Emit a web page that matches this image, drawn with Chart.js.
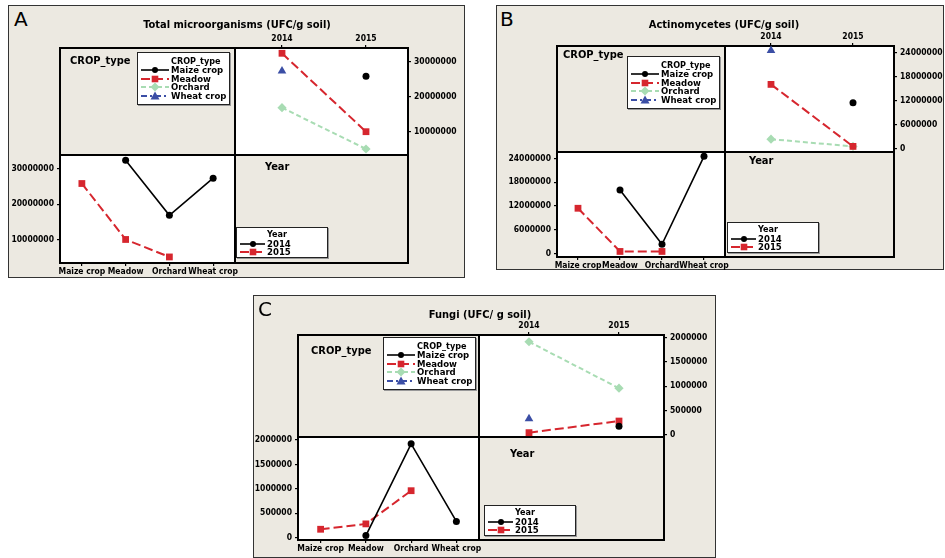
<!DOCTYPE html>
<html><head>
<meta charset="UTF-8">
<title>Interaction plots</title>
<script src="https://cdn.jsdelivr.net/npm/chart.js"></script>
<style>
  body { margin: 0; width: 945px; height: 558px; background: #fff; position: relative; overflow: hidden;
         font-family: "DejaVu Sans Condensed", "DejaVu Sans", sans-serif; font-weight: bold; color: #000; }
  .abs { position: absolute; }
  .frame { position: absolute; background: #ece9e1; border: 1px solid #333; box-sizing: border-box; }
  .txt { position: absolute; line-height: 1; white-space: nowrap; transform: translateY(-50%); }
  .legend { position: absolute; background: #fff; border: 1px solid #222; box-shadow: 1px 1px 0 #999; box-sizing: border-box; }
  canvas { position: absolute; }
</style>
</head><body>
<script>
// values
const crops = ['Maize crop', 'Meadow', 'Orchard', 'Wheat crop'];
const years = ['2014', '2015'];

const total2014 = [null, 32300000, 16900000, 27300000];
const total2015 = [25800000, 10100000, 5200000, null];
const totalTicks = [10000000, 20000000, 30000000];

const actino2014 = [null, 16000000, 2300000, 24500000];
const actino2015 = [11400000, 500000, 500000, null];
const actinoTicks = [0, 6000000, 12000000, 18000000, 24000000];

const fungi2014 = [null, 40000, 1920000, 330000];
const fungi2015 = [170000, 280000, 960000, null];
const fungiTicks = [0, 500000, 1000000, 1500000, 2000000];

const FONT = '"DejaVu Sans Condensed", "DejaVu Sans", sans-serif';
Chart.defaults.font.family = FONT;
Chart.defaults.font.weight = 'bold';
Chart.defaults.font.size = 8.5;
Chart.defaults.color = '#000';

const cropStyles = [
  { color: '#000000', dash: [], point: 'circle', r: 3.5, w: 1.6 },
  { color: '#d6262e', dash: [9, 4], point: 'rect', r: 4.8, w: 2 },
  { color: '#a8dcb3', dash: [5, 3], point: 'rectRot', r: 4.6, w: 2 },
  { color: '#3b4ea5', dash: [6, 3, 2, 3], point: 'triangle', r: 5, w: 2 },
];
const yearStyles = [cropStyles[0], cropStyles[1]];

const panels = [
  {
    letter: 'A', title: 'Total microorganisms (UFC/g soil)', v2014: total2014, v2015: total2015,
    ticks: totalTicks, min: 3500000, max: 33800000,
    frame: [8, 5, 465, 278], grid: { l: 60, m: 235, r: 408, t: 48, h: 155, b: 263 },
    letterAt: [14, 19], titleAt: [237, 24], cropLabel: [70, 60], yearLabel: [265, 166],
    cropLeg: [137, 52], yearLeg: [236, 227],
  },
  {
    letter: 'B', title: 'Actinomycetes (UFC/g soil)', v2014: actino2014, v2015: actino2015,
    ticks: actinoTicks, min: -900000, max: 25600000,
    frame: [496, 5, 944, 270], grid: { l: 557, m: 725, r: 894, t: 46, h: 152, b: 257 },
    letterAt: [500, 19], titleAt: [724, 24], cropLabel: [563, 54], yearLabel: [749, 160],
    cropLeg: [627, 56], yearLeg: [727, 222],
  },
  {
    letter: 'C', title: 'Fungi (UFC/ g soil)', v2014: fungi2014, v2015: fungi2015,
    ticks: fungiTicks, min: -50000, max: 2060000,
    frame: [253, 295, 716, 558], grid: { l: 298, m: 479, r: 664, t: 335, h: 437, b: 540 },
    letterAt: [258, 309], titleAt: [480, 314], cropLabel: [311, 350], yearLabel: [510, 453],
    cropLeg: [383, 337], yearLeg: [484, 505],
  },
];

const el = (cls, css, text) => {
  const d = document.createElement('div');
  d.className = cls;
  Object.assign(d.style, css);
  if (text) d.textContent = text;
  document.body.appendChild(d);
  return d;
};
const box = (l, t, r, b, bg) => el('abs', { left: l + 'px', top: t + 'px', width: (r - l) + 'px', height: (b - t) + 'px', background: bg });
const text = (x, y, s, size, extra) => el('txt', Object.assign({ left: x + 'px', top: y + 'px', fontSize: size + 'px' }, extra || {}), s);

const sampleSvg = (st, len, mx) => {
  const dash = st.dash.length ? `stroke-dasharray="${st.dash.join(' ')}"` : '';
  let mk = '';
  if (st.point === 'circle') mk = `<circle cx="${mx}" cy="5" r="3" fill="${st.color}"/>`;
  if (st.point === 'rect') mk = `<rect x="${mx - 3.3}" y="1.7" width="6.6" height="6.6" fill="${st.color}"/>`;
  if (st.point === 'rectRot') mk = `<polygon points="${mx},0.5 ${mx + 4.5},5 ${mx},9.5 ${mx - 4.5},5" fill="${st.color}"/>`;
  if (st.point === 'triangle') mk = `<polygon points="${mx},0.5 ${mx + 4.5},8.5 ${mx - 4.5},8.5" fill="${st.color}"/>`;
  return `<svg width="${len}" height="10" style="position:absolute"><line x1="0" y1="5" x2="${len}" y2="5" stroke="${st.color}" stroke-width="${st.w}" ${dash}/>${mk}</svg>`;
};

const legend = (x, y, w, h, title, titleY, names, styles, rowsY, len, mx) => {
  const lg = el('legend', { left: x + 'px', top: y + 'px', width: w + 'px', height: h + 'px' });
  const t = document.createElement('div');
  t.className = 'txt';
  Object.assign(t.style, { left: (len + 5) + 'px', top: titleY + 'px', fontSize: '9px' });
  t.textContent = title;
  lg.appendChild(t);
  names.forEach((n, i) => {
    const s = document.createElement('div');
    s.innerHTML = sampleSvg(styles[i], len, mx);
    Object.assign(s.style, { position: 'absolute', left: '3px', top: (rowsY[i] - 5) + 'px' });
    lg.appendChild(s);
    const tx = document.createElement('div');
    tx.className = 'txt';
    Object.assign(tx.style, { left: (len + 5) + 'px', top: rowsY[i] + 'px', fontSize: '9.5px' });
    tx.textContent = n;
    lg.appendChild(tx);
  });
};

const fixAxis = (size) => (s) => {
  if (s.isHorizontal()) s.height = size; else s.width = size;
  s.paddingLeft = s.paddingRight = s.paddingTop = s.paddingBottom = 0;
};

const lineDs = (label, data, st) => ({
  label, data,
  borderColor: st.color, backgroundColor: st.color, borderWidth: st.w, borderDash: st.dash,
  pointStyle: st.point, pointRadius: st.r, pointBorderWidth: 0, pointBackgroundColor: st.color,
  tension: 0, spanGaps: false, clip: 6,
});

const makeChart = (canvasRect, padding, labels, datasets, xPos, yPos, p, xAxisH, yAxisW) => {
  const cv = document.createElement('canvas');
  const [cl, ct, cw, ch] = canvasRect;
  cv.width = cw; cv.height = ch;
  Object.assign(cv.style, { left: cl + 'px', top: ct + 'px', width: cw + 'px', height: ch + 'px' });
  document.body.appendChild(cv);
  new Chart(cv.getContext('2d'), {
    type: 'line',
    data: { labels, datasets },
    options: {
      responsive: false, animation: false, devicePixelRatio: 1,
      layout: { padding },
      plugins: { legend: { display: false }, tooltip: { enabled: false } },
      scales: {
        x: {
          type: 'category', position: xPos, offset: true,
          grid: { display: true, drawOnChartArea: false, drawTicks: true, tickLength: 3, color: '#000', lineWidth: 1.2 },
          border: { display: false },
          ticks: { autoSkip: false, maxRotation: 0, minRotation: 0, padding: 1 },
          afterFit: fixAxis(xAxisH),
        },
        y: {
          type: 'linear', position: yPos, min: p.min, max: p.max,
          grid: { display: true, drawOnChartArea: false, drawTicks: true, tickLength: 3, color: '#000', lineWidth: 1.2 },
          border: { display: false },
          ticks: { padding: 3, callback: (v) => String(v) },
          afterBuildTicks: (s) => { s.ticks = p.ticks.map((v) => ({ value: v })); },
          afterFit: fixAxis(yAxisW),
        },
      },
    },
  });
};

panels.forEach((p) => {
  const [fl, ft, fr, fb] = p.frame;
  el('frame', { left: fl + 'px', top: ft + 'px', width: (fr - fl) + 'px', height: (fb - ft) + 'px' });
  const g = p.grid;
  box(g.m, g.t, g.r, g.h, '#fff');
  box(g.l, g.h, g.m, g.b, '#fff');
  // matrix lines
  el('abs', { left: (g.m - 1) + 'px', top: (g.t - 1) + 'px', width: '2px', height: (g.b - g.t + 2) + 'px', background: '#000' });
  el('abs', { left: (g.l - 1) + 'px', top: (g.h - 1) + 'px', width: (g.r - g.l + 2) + 'px', height: '2px', background: '#000' });
  el('abs', { left: (g.l - 1) + 'px', top: (g.t - 1) + 'px', width: (g.r - g.l - 2) + 'px', height: (g.b - g.t - 2) + 'px', border: '2px solid #000' });

  // top-right: value by year, one line per crop
  const cropSets = crops.map((c, i) => lineDs(c, [p.v2014[i], p.v2015[i]], cropStyles[i]));
  makeChart([g.m, g.t - 22, (g.r - g.m) + 62, (g.h - g.t) + 30], { left: 0, top: 0, right: 10, bottom: 8 },
    years, cropSets, 'top', 'right', p, 22, 52);

  // bottom-left: value by crop, one line per year
  const yearSets = [lineDs('2014', p.v2014, yearStyles[0]), lineDs('2015', p.v2015, yearStyles[1])];
  makeChart([g.l - 62, g.h - 8, (g.m - g.l) + 70, (g.b - g.h) + 30], { left: 5, top: 8, right: 8, bottom: 0 },
    crops, yearSets, 'bottom', 'left', p, 22, 57);

  text(p.letterAt[0], p.letterAt[1], p.letter, 20, { fontWeight: 'normal', fontFamily: '"DejaVu Sans", sans-serif' });
  const tt = text(p.titleAt[0], p.titleAt[1], p.title, 11);
  tt.style.transform = 'translate(-50%, -50%)';
  text(p.cropLabel[0], p.cropLabel[1], 'CROP_type', 11);
  text(p.yearLabel[0], p.yearLabel[1], 'Year', 11);

  legend(p.cropLeg[0], p.cropLeg[1], 93, 53, 'CROP_type', 8, crops, cropStyles, [17, 25.7, 34.4, 43.1], 28, 14);
  legend(p.yearLeg[0], p.yearLeg[1], 92, 31, 'Year', 6, years, yearStyles, [16, 24], 25, 13);
});
</script>
</body></html>
